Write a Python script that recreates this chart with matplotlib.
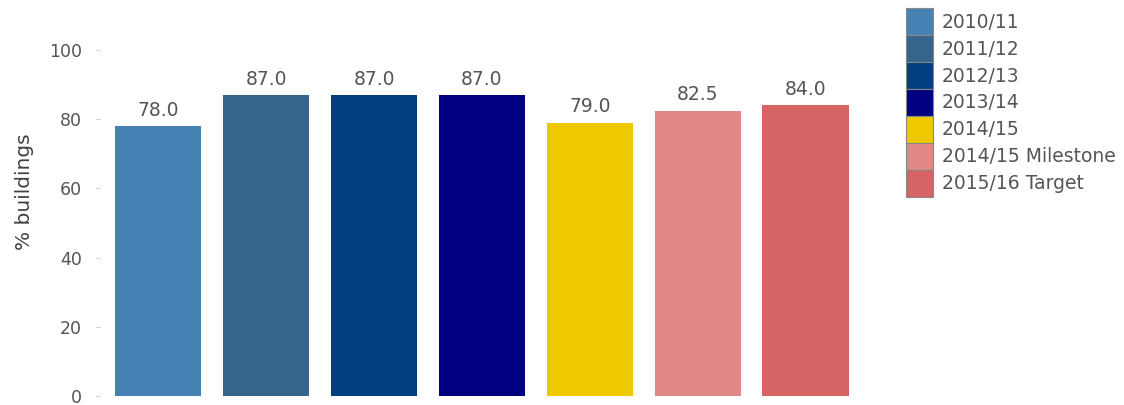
#! /usr/bin/env python3
# coding: utf-8

import matplotlib
matplotlib.use("Agg")
import matplotlib.pyplot as plt
from matplotlib.patches import Patch

# données
periodes = ["2010/11", "2011/12", "2012/13", "2013/14", "2014/15",
            "2014/15 Milestone", "2015/16 Target"]
valeurs = [78.0, 87.0, 87.0, 87.0, 79.0, 82.5, 84.0]
couleurs = ["#4682B4", "#36648B", "#003F7F", "#000080", "#EEC900",
            "#E08886", "#D66464"]
yticks = [0, 20, 40, 60, 80, 100]

plt.rcParams["font.family"] = ["DejaVu Sans"]
gris = "#555555"

fig = plt.figure(figsize=(11.24, 4.05), dpi=100)
ax = fig.add_axes([100 / 1124, 9 / 405, 765 / 1124, 346 / 405])

x = list(range(len(valeurs)))
ax.bar(x, valeurs, width=0.8, color=couleurs)

for xi, v in zip(x, valeurs):
    ax.text(xi, v + 1.8, "{:.1f}".format(v), ha="center", va="bottom",
            fontsize=13.5, color=gris)

ax.set_xlim(-0.54, 6.55)
ax.set_ylim(0, 100)
ax.set_yticks(yticks)
ax.set_xticks([])
ax.tick_params(axis="y", length=3, color="#CCCCCC", labelsize=12.5,
               labelcolor=gris, pad=10)
for s in ax.spines.values():
    s.set_visible(False)

fig.text(25 / 1124, 1 - 192 / 405, "% buildings", rotation=90,
         ha="center", va="center", fontsize=14.5, color="#404040")

handles = [Patch(facecolor=c, edgecolor="#888888", linewidth=0.8) for c in couleurs]
fig.legend(handles, periodes, loc="upper left", bbox_to_anchor=(895 / 1124, 1 + 3 / 405),
           frameon=False, fontsize=13.5, labelcolor=gris, handlelength=1.4,
           handleheight=1.83, handletextpad=0.5, labelspacing=0.0, borderpad=0.1)

fig.savefig("out.png", dpi=100)
